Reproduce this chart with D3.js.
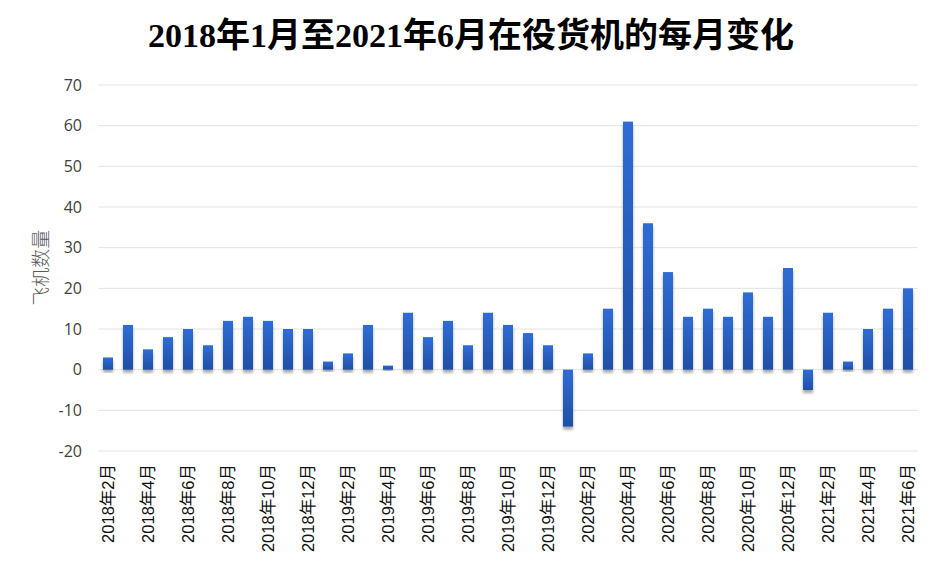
<!DOCTYPE html>
<html>
<head>
<meta charset="utf-8">
<script src="https://cdn.jsdelivr.net/npm/d3@7"></script>
<style>
  body { margin: 0; background: #fff; }
  #chart { width: 942px; height: 571px; }
  .tick-y text { font-family: "Open Sans", "Noto Sans", sans-serif; font-size: 16px; fill: #404040; }
  .tick-x text { font-family: "Liberation Sans", "Noto Sans CJK SC", sans-serif; font-size: 16.5px; fill: #111; }
</style>
</head>
<body>
<div id="chart"></div>
<script>
// months, 2018年2月 .. 2021年6月
const months = [];
for (let y = 2018; y <= 2021; y++) {
    for (let m = 1; m <= 12; m++) {
        if (y === 2018 && m < 2) continue;
        if (y === 2021 && m > 6) continue;
        months.push(y + '年' + m + '月');
    }
}

// monthly change in active freighters
const changes = [3, 11, 5, 8, 10, 6, 12, 13, 12, 10, 10, 2,
    4, 11, 1, 14, 8, 12, 6, 14, 11, 9, 6, -14,
    4, 15, 61, 36, 24, 13, 15, 13, 19, 13, 25, -5,
    14, 2, 10, 15, 20];

const yTicks = [-20, -10, 0, 10, 20, 30, 40, 50, 60, 70];

const width = 942, height = 571;
const margin = { left: 98, right: 24, top: 85, bottom: 121 };

const svg = d3.select('#chart').append('svg')
    .attr('width', width)
    .attr('height', height);

const defs = svg.append('defs');

// bar gradient, lighter at top
const grad = defs.append('linearGradient')
    .attr('id', 'barGrad')
    .attr('x1', 0).attr('y1', 0).attr('x2', 0).attr('y2', 1);
grad.append('stop').attr('offset', '0%').attr('stop-color', '#2f6dd6');
grad.append('stop').attr('offset', '100%').attr('stop-color', '#1f4ea6');

const shadow = defs.append('filter')
    .attr('id', 'shadow')
    .attr('x', '-50%').attr('y', '-10%')
    .attr('width', '200%').attr('height', '130%');
shadow.append('feDropShadow')
    .attr('dx', 0).attr('dy', 3)
    .attr('stdDeviation', 1.6)
    .attr('flood-color', '#000')
    .attr('flood-opacity', 0.35);

const x = d3.scaleBand()
    .domain(months)
    .range([margin.left, width - margin.right])
    .paddingInner(0.5)
    .paddingOuter(0.25);

const y = d3.scaleLinear()
    .domain([-20, 70])
    .range([height - margin.bottom + 1, margin.top]);

// gridlines
svg.append('g')
    .selectAll('line')
    .data(yTicks)
    .enter()
    .append('line')
    .attr('x1', margin.left)
    .attr('x2', width - margin.right)
    .attr('y1', d => y(d))
    .attr('y2', d => y(d))
    .attr('stroke', '#e3e3e3')
    .attr('stroke-width', 1);

// y axis labels (plain hyphen for negatives)
const yAxis = svg.append('g')
    .attr('class', 'tick-y')
    .attr('transform', `translate(${margin.left}, 0)`)
    .call(d3.axisLeft(y).tickValues(yTicks).tickFormat(d => String(d)).tickSize(0).tickPadding(16));
yAxis.select('.domain').remove();

// bars
svg.append('g')
    .selectAll('rect')
    .data(changes)
    .enter()
    .append('rect')
    .attr('x', (d, i) => x(months[i]))
    .attr('width', x.bandwidth())
    .attr('y', d => y(Math.max(0, d)))
    .attr('height', d => Math.abs(y(d) - y(0)))
    .attr('fill', 'url(#barGrad)')
    .attr('filter', 'url(#shadow)');

// x axis labels, every other month
const xAxis = svg.append('g')
    .attr('class', 'tick-x')
    .attr('transform', `translate(0, ${y(-20)})`)
    .call(d3.axisBottom(x)
        .tickValues(months.filter((d, i) => i % 2 === 0))
        .tickSize(0)
        .tickPadding(0));
xAxis.select('.domain').remove();
xAxis.selectAll('text')
    .attr('transform', 'rotate(-90)')
    .attr('text-anchor', 'end')
    .attr('x', -13)
    .attr('y', 0)
    .attr('dy', '0.35em');

// y axis title
svg.append('text')
    .attr('transform', `translate(39, ${y(30) + 20}) rotate(-90)`)
    .attr('text-anchor', 'middle')
    .attr('dominant-baseline', 'central')
    .style('font-family', '"Noto Sans CJK SC", sans-serif')
    .style('font-size', '19px')
    .style('font-weight', 300)
    .style('fill', '#595959')
    .text('飞机数量');

// title
svg.append('text')
    .attr('x', 471)
    .attr('y', 47)
    .attr('text-anchor', 'middle')
    .style('font-family', '"Liberation Serif", "Noto Sans CJK SC", serif')
    .style('font-size', '34px')
    .style('font-weight', 'bold')
    .style('fill', '#000')
    .text('2018年1月至2021年6月在役货机的每月变化');
</script>
</body>
</html>
